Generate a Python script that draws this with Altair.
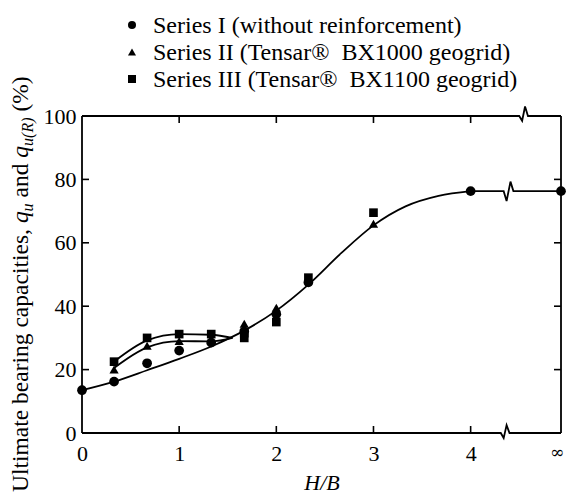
import altair as alt
import pandas as pd

# ---------------- data ----------------
INF = 4.93  # position used for "infinity" on the H/B axis

s1_x = [0, 0.33, 0.67, 1.0, 1.33, 1.67, 2.0, 2.33, 4.0, INF]
s1_y = [13.5, 16.2, 22.0, 26.0, 28.5, 32.0, 37.5, 47.5, 76.3, 76.3]
s2_x = [0.33, 0.67, 1.0, 1.33, 1.67, 2.0, 3.0]
s2_y = [20.0, 27.5, 29.0, 29.5, 34.5, 39.5, 66.0]
s3_x = [0.33, 0.67, 1.0, 1.33, 1.67, 1.67, 2.0, 2.33, 3.0]
s3_y = [22.5, 30.0, 31.2, 31.2, 31.5, 30.0, 35.0, 49.0, 69.5]

c1_x = [0, 0.33, 0.67, 1.0, 1.33, 1.67, 2.0, 2.33, 2.67, 3.0, 3.33, 3.67, 4.0]
c1_y = [13.5, 16.2, 19.8, 23.4, 27.3, 32.3, 38.6, 46.8, 56.8, 65.5, 71.5, 74.8, 76.3]
c2_x = [0.33, 0.67, 1.0, 1.33, 1.55]
c2_y = [20.5, 27.0, 29.0, 28.9, 30.0]
c3_x = [0.33, 0.67, 1.0, 1.33, 1.55]
c3_y = [22.5, 29.2, 31.2, 31.0, 30.0]
tail_x = [4.0, 4.34, 4.37, 4.41, 4.44, INF]
tail_y = [76.3, 76.3, 73.2, 79.3, 76.3, 76.3]

bottom_x = [0, 4.31, 4.34, 4.37, 4.40, INF]
bottom_y = [0, 0, -1.6, 2.5, 0, 0]
top_x = [0, 4.50, 4.53, 4.56, 4.59, INF]
top_y = [100, 100, 98.5, 103, 100, 100]

x_ticks = [0, 1, 2, 3, 4]
y_ticks = [0, 20, 40, 60, 80, 100]
inner_x_ticks = [1, 2, 3, 4]
inner_y_ticks = [20, 40, 60, 80]
inf_label = "\u221e"

legend_labels = ["Series I (without reinforcement)",
                 "Series II (Tensar\u00ae\u00a0 BX1000 geogrid)",
                 "Series III (Tensar\u00ae\u00a0 BX1100 geogrid)"]
legend_shapes = ["circle", "triangle-up", "square"]

# ---------------- layout ----------------
W, H = 479, 317
FONT = "Liberation Serif"

xs = alt.Scale(domain=[0, INF], nice=False, zero=False)
ys = alt.Scale(domain=[0, 100], nice=False, zero=False)
xaxis = alt.Axis(values=x_ticks, domain=False, ticks=False, grid=False, labelFont=FONT,
                 labelFontSize=22, labelColor="black", labelPadding=10, titleFont=FONT,
                 titleFontSize=22, titleFontStyle="italic", titleFontWeight="normal",
                 titleColor="black", titlePadding=8, labelFlush=False)
yaxis = alt.Axis(values=y_ticks, domain=False, ticks=False, grid=False, labelFont=FONT,
                 labelFontSize=22, labelColor="black", labelPadding=6)

X = alt.X("x:Q", scale=xs, axis=xaxis, title="H/B")
Y = alt.Y("y:Q", scale=ys, axis=yaxis, title="")


def df(x, y):
    return pd.DataFrame({"x": x, "y": y})


layers = []
# curves
for cx, cy in [(c1_x, c1_y), (c2_x, c2_y), (c3_x, c3_y)]:
    layers.append(alt.Chart(df(cx, cy)).mark_line(color="black", strokeWidth=1.8,
                                                   interpolate="monotone").encode(x=X, y=Y))
layers.append(alt.Chart(df(tail_x, tail_y)).mark_line(color="black", strokeWidth=1.8).encode(x=X, y=Y))
# frame
for fx, fy in [(bottom_x, bottom_y), (top_x, top_y)]:
    layers.append(alt.Chart(df(fx, fy)).mark_line(color="black", strokeWidth=1.8).encode(x=X, y=Y))
layers.append(alt.Chart(df([0, INF], [0, 0])).mark_rule(color="black", strokeWidth=1.8).encode(
    x=X, y=alt.value(0), y2=alt.value(H)))
# inward ticks
tk_y = pd.DataFrame({"y": inner_y_ticks})
tk_x = pd.DataFrame({"x": inner_x_ticks})
layers.append(alt.Chart(tk_y).mark_rule(color="black", strokeWidth=1.6).encode(
    y=Y, x=alt.value(0), x2=alt.value(7)))
layers.append(alt.Chart(tk_y).mark_rule(color="black", strokeWidth=1.6).encode(
    y=Y, x=alt.value(W), x2=alt.value(W - 7)))
layers.append(alt.Chart(tk_x).mark_rule(color="black", strokeWidth=1.6).encode(
    x=X, y=alt.value(H), y2=alt.value(H - 7)))
layers.append(alt.Chart(tk_x).mark_rule(color="black", strokeWidth=1.6).encode(
    x=X, y=alt.value(0), y2=alt.value(7)))
# infinity label at the right end of the H/B axis
layers.append(alt.Chart(pd.DataFrame({"x": [INF], "t": [inf_label]})).mark_text(
    font="DejaVu Serif", fontSize=17, align="center", baseline="top", dx=-4, color="black").encode(
    x=X, y=alt.value(H + 12), text="t:N"))
# points
for px, py, shp, sz in [(s1_x, s1_y, "circle", 95), (s2_x, s2_y, "triangle-up", 85),
                        (s3_x, s3_y, "square", 75)]:
    layers.append(alt.Chart(df(px, py)).mark_point(shape=shp, filled=True, fill="black",
                                                   opacity=1, size=sz, strokeWidth=0).encode(x=X, y=Y))

# legend
leg_y = [-91, -64, -37]
for lab, shp, ly in zip(legend_labels, legend_shapes, leg_y):
    one = pd.DataFrame({"t": [lab]})
    layers.append(alt.Chart(one).mark_point(shape=shp, filled=True, fill="black", opacity=1,
                                            size=65, strokeWidth=0).encode(
        x=alt.value(50), y=alt.value(ly)))
    layers.append(alt.Chart(one).mark_text(font=FONT, fontSize=24, align="left",
                                           baseline="middle", color="black").encode(
        x=alt.value(71), y=alt.value(ly + 1), text="t:N"))

# y-axis title composed of pieces (rotated)
title_parts = [
    ("Ultimate bearing capacities,", "normal", 23.5, -54, 376),
    ("q", "italic", 23.5, -54, 107.1),
    ("u", "italic", 16, -49, 95.4),
    ("and", "normal", 23.5, -54, 81.5),
    ("q", "italic", 23.5, -54, 41.7),
    ("u(R)", "italic", 16, -49, 29.9),
    ("(%)", "normal", 23.5, -54, -4.4),
]
for txt, style, fs, tx, ty in title_parts:
    layers.append(alt.Chart(pd.DataFrame({"t": [txt]})).mark_text(
        font=FONT, fontSize=fs, fontStyle=style, align="left", baseline="alphabetic",
        angle=270, color="black").encode(x=alt.value(tx), y=alt.value(ty), text="t:N"))

chart = alt.layer(*layers).properties(
    width=W, height=H,
    autosize=alt.AutoSizeParams(type="none"),
    padding={"left": 82, "top": 116, "right": 5, "bottom": 63},
).configure_view(stroke=None)

chart.save("out.html", embed_options={"renderer": "svg", "actions": False})
